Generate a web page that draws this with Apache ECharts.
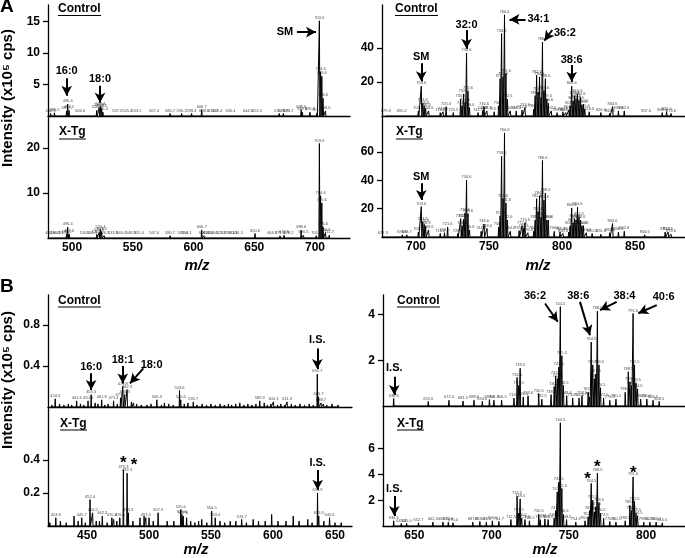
<!DOCTYPE html>
<html><head><meta charset="utf-8">
<script src="https://cdn.jsdelivr.net/npm/echarts@6/dist/echarts.min.js"></script>
<style>html,body{margin:0;padding:0;background:#fff}#c{width:685px;height:558px}</style>
</head><body><div id="c"></div>
<script>
// ================= DATA (m/z, intensity) =================
// Panel A, left (m/z 480-730), Control and X-Tg
const aLeftCtrlPeaks = [[482.3,0.4],[485.5,0.5],[495.5,0.8],[496.4,1.9],[497.5,0.9],[506.6,0.3],[520.3,0.9],[522.3,1.3],[523.4,1.5],[524.4,1.2],[525.4,0.6],[537.2,0.3],[545.4,0.3],[553.1,0.3],[567.4,0.3],[580.7,0.4],[590.2,0.4],[598.4,0.4],[606.7,1.0],[608.6,0.3],[616.2,0.3],[619.4,0.3],[630.4,0.3],[644.6,0.3],[652.3,0.3],[670.5,0.4],[673.9,0.4],[678.2,0.3],[688.6,1.0],[689.6,0.6],[695.8,0.6],[701.6,0.5],[703.6,15.1],[704.6,7.0],[705.6,6.3],[706.6,2.8],[708.6,0.8]];
const aLeftXtgPeaks = [[482.0,0.4],[486.2,0.4],[491.4,0.4],[495.5,0.8],[496.4,2.4],[497.6,0.9],[510.5,0.4],[516.3,0.4],[520.4,0.8],[522.3,1.2],[523.4,1.9],[524.4,1.4],[526.5,0.5],[533.8,0.4],[540.6,0.4],[548.3,0.4],[555.0,0.4],[567.6,0.4],[580.7,0.5],[591.0,0.4],[594.1,0.4],[606.7,1.8],[608.6,0.5],[612.0,0.4],[616.5,0.4],[622.3,0.4],[627.0,0.4],[632.1,0.4],[636.5,0.4],[650.6,1.0],[664.7,0.4],[671.2,0.5],[674.5,0.6],[678.2,0.4],[688.6,1.7],[690.5,0.6],[701.0,0.5],[703.6,21.0],[704.6,9.4],[705.6,7.8],[706.6,2.5],[708.6,1.2],[711.7,0.6]];
// Panel A, right (m/z 677-884)
const aRightCtrlPeaks = [[679.3,1],[690.2,1],[701.6,3],[703.6,17.5],[704.6,7.5],[705.6,6.0],[706.6,4.5],[708.6,3.0],[716.6,2.0],[718.5,2.5],[720.6,5.5],[725.5,2.0],[730.5,10.0],[731.5,6.0],[732.6,13.0],[733.6,8.0],[734.6,37.0],[735.6,14.5],[736.6,5.0],[742.5,2.0],[745.6,3.0],[746.6,5.5],[748.5,3.0],[753.5,2.5],[756.6,6.0],[757.6,22.0],[758.6,48.5],[759.6,23.0],[760.6,59.5],[761.6,25.0],[762.6,10.0],[764.6,3.0],[768.6,3.0],[772.6,3.5],[774.6,5.0],[780.6,4.0],[781.6,12.0],[782.6,24.0],[783.6,14.0],[784.6,23.0],[785.6,11.0],[786.6,43.5],[787.6,15.0],[788.6,22.0],[789.6,10.0],[790.6,7.5],[792.6,3.0],[796.6,2.0],[800.6,2.5],[802.6,2.0],[804.6,3.5],[805.6,6.0],[806.6,17.5],[807.6,9.0],[808.6,12.0],[809.6,10.0],[810.6,13.0],[811.6,9.0],[812.6,11.0],[813.6,6.5],[814.6,7.0],[815.6,4.0],[818.6,2.5],[826.6,2.0],[832.6,1.5],[834.6,5.5],[838.6,3.0],[842.6,3.0],[857.6,1.0],[868.6,2.0],[871.6,2.5],[874.6,1.5]];
const aRightXtgPeaks = [[677.3,1],[690.6,1.5],[693.7,1.5],[701.6,3.5],[703.6,21.5],[704.6,10.5],[705.6,9.0],[706.6,7.5],[708.6,5.0],[716.6,2.5],[719.5,3.0],[721.6,7.0],[728.6,2.5],[730.6,13.0],[731.6,8.0],[732.6,12.5],[733.6,17.0],[734.6,40.0],[735.6,16.5],[736.6,5.0],[744.6,4.0],[746.6,9.0],[748.6,6.0],[756.6,7.0],[757.6,15.0],[758.6,57.0],[759.6,27.0],[760.6,73.5],[761.6,24.0],[762.6,12.0],[764.6,4.0],[770.6,4.5],[772.6,8.0],[773.6,6.0],[774.6,10.0],[776.6,3.0],[780.6,4.0],[781.6,12.0],[782.6,27.0],[783.6,18.0],[784.6,29.0],[785.6,14.0],[786.6,54.0],[787.6,26.0],[788.6,31.0],[789.6,12.0],[790.6,12.0],[794.6,4.0],[798.6,3.5],[800.6,2.5],[804.6,3.5],[805.6,8.0],[806.6,20.5],[807.6,10.0],[808.6,13.0],[809.6,12.0],[810.6,21.0],[811.6,14.0],[812.6,12.0],[813.6,8.0],[814.6,8.0],[816.6,3.0],[820.6,2.5],[826.6,2.0],[832.6,3.0],[834.6,9.5],[838.6,3.5],[842.6,4.0],[856.6,1.5],[870.6,3.5],[872.6,3.5],[874.6,2.0]];
// Panel B, left (m/z 418-664)
const bLeftCtrlPeaks = [[424.3,0.08],[441.6,0.06],[450.8,0.06],[453.3,0.12],[461.8,0.07],[471.4,0.06],[477.0,0.09],[478.8,0.20],[480.3,0.12],[482.3,0.17],[506.3,0.07],[524.6,0.16],[525.6,0.07],[535.7,0.05],[589.3,0.06],[600.3,0.05],[611.3,0.05],[635.7,0.32],[636.7,0.10],[638.7,0.04]];
const bLeftCtrlNoise = [[421.6,0.02],[427.8,0.03],[431.3,0.02],[434.9,0.03],[437.6,0.02],[444.7,0.03],[447.4,0.02],[456.5,0.04],[458.8,0.03],[464.3,0.02],[467.0,0.03],[474.4,0.03],[485.8,0.05],[487.5,0.04],[490.0,0.03],[493.7,0.02],[498.3,0.02],[501.6,0.03],[510.0,0.02],[512.4,0.04],[515.9,0.03],[519.5,0.02],[528.4,0.03],[531.3,0.04],[538.7,0.02],[542.8,0.03],[546.4,0.02],[549.9,0.03],[553.5,0.02],[557.3,0.03],[560.7,0.02],[564.0,0.03],[566.6,0.02],[569.9,0.03],[573.2,0.04],[576.5,0.02],[579.7,0.03],[583.0,0.02],[586.2,0.03],[592.9,0.04],[595.5,0.02],[598.2,0.03],[603.7,0.02],[606.3,0.03],[609.5,0.02],[614.8,0.03],[618.0,0.02],[621.7,0.03],[625.4,0.02],[629.2,0.03],[632.5,0.02],[640.7,0.03],[643.3,0.02],[647.6,0.03],[652.4,0.02]];
const bLeftXtgPeaks = [[424.8,0.05],[445.7,0.05],[452.4,0.16],[454.5,0.08],[462.3,0.06],[470.0,0.05],[476.4,0.05],[479.3,0.34],[482.3,0.32],[483.3,0.08],[497.4,0.05],[507.3,0.08],[525.6,0.10],[526.6,0.07],[527.6,0.06],[550.5,0.09],[553.4,0.05],[574.7,0.04],[635.9,0.20],[636.9,0.06],[645.6,0.05]];
const bLeftXtgNoise = [[420.0,0.02],[428.5,0.03],[433.2,0.02],[439.5,0.06],[442.8,0.03],[448.6,0.02],[457.4,0.03],[460.0,0.03],[466.2,0.02],[471.5,0.04],[474.0,0.03],[487.0,0.03],[492.7,0.05],[496.0,0.06],[500.0,0.05],[503.4,0.03],[514.6,0.03],[520.0,0.03],[530.3,0.05],[533.6,0.03],[537.0,0.02],[540.0,0.03],[542.5,0.04],[546.6,0.02],[557.2,0.03],[561.0,0.02],[565.5,0.03],[570.0,0.03],[578.5,0.02],[584.0,0.04],[588.3,0.03],[593.7,0.03],[598.9,0.07],[604.0,0.03],[610.5,0.03],[616.3,0.06],[621.0,0.03],[628.0,0.04],[631.5,0.02],[641.0,0.03],[650.0,0.02],[655.0,0.02]];
// Panel B, right (m/z 630-825)
const bRightCtrlPeaks = [[636.6,0.33],[659.0,0.2],[672.4,0.25],[681.5,0.22],[688.6,0.25],[694.0,0.2],[698.6,0.28],[701.5,0.25],[706.5,0.25],[714.5,0.35],[716.5,1.25],[717.5,0.9],[718.5,1.65],[720.5,0.4],[723.6,0.45],[730.5,0.55],[732.5,0.3],[738.5,0.5],[740.5,0.85],[741.5,1.3],[742.6,1.2],[743.5,1.7],[744.5,4.35],[745.5,2.2],[746.5,0.9],[748.6,0.45],[752.5,0.35],[756.6,0.35],[758.5,0.45],[762.5,0.6],[763.5,0.4],[764.5,2.8],[765.5,1.8],[766.5,1.2],[767.5,1.4],[768.5,4.15],[769.5,1.8],[770.5,0.8],[772.5,0.35],[776.5,0.25],[780.5,0.3],[786.5,0.6],[788.5,1.5],[789.6,1.05],[790.5,0.9],[791.6,4.05],[792.5,1.8],[793.5,1.0],[794.5,0.75],[796.5,0.3],[800.5,0.3],[804.5,0.25],[808.5,0.2]];
const bRightXtgPeaks = [[636.6,0.4],[641.5,0.2],[645.0,0.2],[652.7,0.25],[662.0,0.3],[668.5,0.3],[672.0,0.3],[675.0,0.25],[687.8,0.3],[692.4,0.35],[696.6,0.3],[700.5,0.4],[704.7,0.35],[712.5,0.5],[716.5,2.3],[717.5,1.0],[718.5,2.1],[719.5,0.6],[721.6,0.5],[724.5,0.4],[730.5,0.9],[731.5,0.5],[734.5,0.55],[736.6,0.5],[740.5,0.6],[741.5,1.2],[742.5,2.65],[743.5,3.4],[744.5,8.0],[745.5,2.9],[746.5,0.9],[748.5,0.5],[754.5,0.3],[760.5,0.4],[762.5,0.7],[763.5,1.2],[764.5,3.3],[765.5,2.0],[766.5,1.1],[767.5,1.5],[768.5,4.1],[769.5,1.8],[770.5,1.0],[772.5,0.6],[776.5,0.35],[780.5,0.3],[786.5,0.4],[789.5,1.6],[790.5,1.2],[791.6,3.8],[792.5,1.9],[793.5,1.0],[794.5,0.8],[798.5,0.3],[802.5,0.3],[806.5,0.3],[810.5,0.25]];

// Tick labels
const aLeftCtrlTicks = [5, 10, 15];
const aLeftXtgTicks = [10, 20];
const aRightCtrlTicks = [20, 40];
const aRightXtgTicks = [20, 40, 60];
const bLeftCtrlTicks = [0.4, 0.8];
const bLeftXtgTicks = [0.2, 0.4];
const bRightCtrlTicks = [2, 4];
const bRightXtgTicks = [2, 4, 6];
const aLeftXTicks = [500, 550, 600, 650, 700];
const aRightXTicks = [700, 750, 800, 850];
const bLeftXTicks = [450, 500, 550, 600, 650];
const bRightXTicks = [650, 700, 750, 800];

// ================= LAYOUT =================
const FONT = "'Liberation Sans', Arial, Helvetica, sans-serif";
const panels = [
  {peaks:aLeftCtrlPeaks, noise:[], yMax:17.6, yTicks:aLeftCtrlTicks, xMin:480.2, xMax:728.8, xTicks:null, grid:{left:48, top:5, width:302, height:111}, w:0.4},
  {peaks:aLeftXtgPeaks, noise:[], yMax:27.1, yTicks:aLeftXtgTicks, xMin:480.2, xMax:728.8, xTicks:aLeftXTicks, grid:{left:48, top:116, width:302, height:122}, w:0.4},
  {peaks:aRightCtrlPeaks, noise:[], yMax:65.3, yTicks:aRightCtrlTicks, xMin:676.7, xMax:884.2, xTicks:null, grid:{left:382, top:5, width:303, height:111}, w:0.35},
  {peaks:aRightXtgPeaks, noise:[], yMax:85.4, yTicks:aRightXtgTicks, xMin:676.7, xMax:884.2, xTicks:aRightXTicks, grid:{left:382, top:116, width:303, height:121}, w:0.35},
  {peaks:bLeftCtrlPeaks, noise:bLeftCtrlNoise, yMax:1.093, yTicks:bLeftCtrlTicks, xMin:418.5, xMax:663.7, xTicks:null, grid:{left:48, top:295, width:304, height:112}, w:0.3},
  {peaks:bLeftXtgPeaks, noise:bLeftXtgNoise, yMax:0.721, yTicks:bLeftXtgTicks, xMin:418.5, xMax:663.7, xTicks:bLeftXTicks, grid:{left:48, top:407, width:304, height:119}, w:0.3},
  {peaks:bRightCtrlPeaks, noise:[], yMax:4.86, yTicks:bRightCtrlTicks, xMin:629.7, xMax:825.2, xTicks:null, grid:{left:383, top:295, width:302, height:111}, w:0.3},
  {peaks:bRightXtgPeaks, noise:[], yMax:9.3, yTicks:bRightXtgTicks, xMin:629.7, xMax:825.2, xTicks:bRightXTicks, grid:{left:383, top:406, width:302, height:120}, w:0.3}
];

// Annotations (label position, arrow from -> to, in data coordinates)
const annotations = [
  {p:0, text:'16:0', at:[495.6,7.1], from:[495.6,6.0], to:[495.6,3.2]},
  {p:0, text:'18:0', at:[523.0,5.8], from:[523.0,4.8], to:[523.0,2.1]},
  {p:0, text:'SM', at:[675.3,13.3], from:[685.1,13.3], to:[700.8,13.3]},
  {p:2, text:'SM', at:[703.6,34.7], from:[703.6,31.0], to:[703.6,20.5]},
  {p:2, text:'32:0', at:[734.6,53.5], from:[734.6,50.6], to:[734.6,39.5]},
  {p:2, text:'34:1', at:[783.8,56.8], from:[775.0,56.8], to:[764.0,56.8]},
  {p:2, text:'36:2', at:[802.0,48.8], from:[793.3,50.6], to:[787.9,44.3]},
  {p:2, text:'38:6', at:[806.6,32.9], from:[806.6,30.0], to:[806.6,20.2]},
  {p:3, text:'SM', at:[703.6,42.6], from:[703.6,37.9], to:[703.6,26.1]},
  {p:4, text:'16:0', at:[453.3,0.393], from:[453.3,0.33], to:[453.3,0.165]},
  {p:4, text:'18:1', at:[478.8,0.46], from:[478.8,0.40], to:[478.8,0.23]},
  {p:4, text:'18:0', at:[502.1,0.41], from:[495.4,0.377], to:[484.6,0.23]},
  {p:4, text:'I.S.', at:[635.7,0.654], from:[635.7,0.57], to:[635.7,0.37]},
  {p:5, text:'I.S.', at:[636.0,0.38], from:[636.0,0.34], to:[636.0,0.22]},
  {p:5, text:'*', at:[479.2,0.38], star:true},
  {p:5, text:'*', at:[487.9,0.365], star:true},
  {p:6, text:'I.S.', at:[637.0,1.65], from:[637.0,1.28], to:[637.0,0.48]},
  {p:6, text:'36:2', at:[728.1,4.8], from:[734.6,4.49], to:[742.8,3.69]},
  {p:6, text:'38:6', at:[756.1,4.8], from:[757.2,4.56], to:[763.7,3.1]},
  {p:6, text:'38:4', at:[786.0,4.8], from:[781.0,4.56], to:[770.2,4.2]},
  {p:6, text:'40:6', at:[811.4,4.77], from:[806.9,4.42], to:[795.0,4.06]},
  {p:7, text:'I.S.', at:[637.0,2.85], from:[637.0,2.33], to:[637.0,0.78]},
  {p:7, text:'*', at:[762.2,3.64], star:true},
  {p:7, text:'*', at:[768.4,4.55], star:true},
  {p:7, text:'*', at:[791.7,4.09], star:true}
];

function profile(peaks, w) {
  const pts = peaks.slice().sort((a, b) => a[0] - b[0]);
  const out = [];
  pts.forEach(p => { out.push([p[0] - w, 0]); out.push([p[0], p[1]]); out.push([p[0] + w, 0]); });
  return out;
}

const grids = [], xAxes = [], yAxes = [], series = [];
panels.forEach((pn, i) => {
  grids.push(Object.assign({containLabel:false, outerBoundsMode:'none'}, pn.grid));
  const isBottom = !!pn.xTicks;
  xAxes.push({
    type:'value', gridIndex:i, min:pn.xMin, max:pn.xMax,
    axisLine:{show:true, onZero:false, lineStyle:{color:'#000', width:1.3}},
    axisTick:{show:false},
    splitLine:{show:false},
    axisLabel: isBottom ? {show:true, customValues:pn.xTicks, margin:4, color:'#000', fontSize:12, fontWeight:'bold', fontFamily:FONT}
                        : {show:false}
  });
  yAxes.push({
    type:'value', gridIndex:i, min:0, max:pn.yMax,
    axisLine:{show:true, lineStyle:{color:'#000', width:1.3}},
    axisTick:{show:true, customValues:pn.yTicks, length:5, lineStyle:{color:'#000', width:1.3}},
    axisLabel:{show:true, customValues:pn.yTicks, margin:8, color:'#000', fontSize:12, fontWeight:'bold', fontFamily:FONT},
    splitLine:{show:false}
  });
  const ann = annotations.filter(a => a.p === i);
  series.push({
    type:'line', xAxisIndex:i, yAxisIndex:i, silent:true, animation:false,
    symbol:'none', data: profile(pn.peaks.concat(pn.noise), pn.w),
    lineStyle:{color:'#000', width:1},
    markLine:{
      silent:true, animation:false, symbol:['none','arrow'], symbolSize:[8,10],
      lineStyle:{color:'#000', width:2, type:'solid'}, label:{show:false},
      data: ann.filter(a => a.from).map(a => [{coord:a.from}, {coord:a.to}])
    },
    markPoint:{
      silent:true, animation:false, symbol:'circle', symbolSize:1, itemStyle:{color:'rgba(0,0,0,0)'},
      label:{show:true, position:'inside', formatter:'{b}', color:'#000', fontSize:11, fontWeight:'bold', fontFamily:FONT},
      data: ann.map(a => ({name:a.text, coord:a.at, label: a.star ? {fontSize:17} : {}}))
    }
  });
  series.push({
    type:'scatter', xAxisIndex:i, yAxisIndex:i, silent:true, animation:false,
    symbolSize:0, data: pn.peaks.map(p => [p[0], p[1]]),
    label:{show:true, position:'top', distance:1, fontSize:4, color:'#111', fontFamily:FONT,
      formatter: p => p.value[0].toFixed(1)}
  });
});

function txt(x, y, text, size, extra) {
  return Object.assign({type:'text', x:x, y:y, silent:true,
    style:Object.assign({text:text, fill:'#000', fontSize:size, fontWeight:'bold', fontFamily:FONT, align:'left', verticalAlign:'middle'}, (extra && extra.style) || {})},
    extra && extra.rotation ? {rotation:extra.rotation} : {});
}
function uline(x1, x2, y) {
  return {type:'line', silent:true, shape:{x1:x1, y1:y, x2:x2, y2:y}, style:{stroke:'#000', lineWidth:1}};
}
const graphics = [
  txt(0, 7, 'A', 19), txt(0, 287, 'B', 19),
  txt(58, 9, 'Control', 12), uline(58, 101, 15.5),
  txt(59, 132, 'X-Tg', 12), uline(59, 86, 139),
  txt(395, 9, 'Control', 12), uline(395, 438, 15.5),
  txt(396, 132, 'X-Tg', 12), uline(396, 423, 139),
  txt(58, 301, 'Control', 12), uline(58, 101, 307),
  txt(60, 424, 'X-Tg', 12), uline(60, 87, 430),
  txt(397, 301, 'Control', 12), uline(397, 440, 307),
  txt(397, 424, 'X-Tg', 12), uline(397, 424, 430),
  txt(8, 98, 'Intensity (x10\u2075 cps)', 15, {rotation:Math.PI/2, style:{align:'center'}}),
  txt(8, 380, 'Intensity (x10\u2075 cps)', 15, {rotation:Math.PI/2, style:{align:'center'}}),
  txt(197, 266, 'm/z', 15, {style:{align:'center', fontStyle:'italic'}}),
  txt(538, 266, 'm/z', 15, {style:{align:'center', fontStyle:'italic'}}),
  txt(196, 550, 'm/z', 15, {style:{align:'center', fontStyle:'italic'}}),
  txt(545, 550, 'm/z', 15, {style:{align:'center', fontStyle:'italic'}})
];

const chart = echarts.init(document.getElementById('c'), null, {renderer:'canvas'});
chart.setOption({
  backgroundColor:'#fff', animation:false,
  grid:grids, xAxis:xAxes, yAxis:yAxes, series:series, graphic:graphics
});
</script>
</body></html>
